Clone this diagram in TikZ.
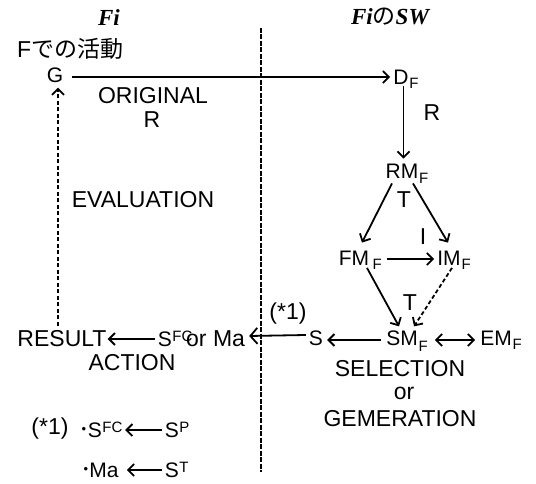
\documentclass[tikz,border=0pt]{standalone}
\usepackage{fontspec}
\setmainfont{Liberation Sans}
\newfontfamily\cjk{Noto Sans CJK JP}
\newfontfamily\srf{Liberation Serif}
\usetikzlibrary{arrows.meta}
\begin{document}
\begin{tikzpicture}[x=1pt,y=-1pt,
  nd/.style={font=\fontsize{21}{25}\selectfont, inner sep=0pt},
  lb/.style={font=\fontsize{23}{27}\selectfont, inner sep=0pt},
  ttl/.style={font=\fontsize{23}{27}\selectfont\srf\bfseries\itshape, inner sep=0pt},
  sb/.style={font=\fontsize{15}{17}\selectfont, inner sep=0pt, anchor=north west},
  sp/.style={font=\fontsize{15}{17}\selectfont, inner sep=0pt, anchor=south west},
  dot/.style={font=\fontsize{13}{15}\selectfont, inner sep=0pt},
  arr/.style={line width=1.8pt, -{Straight Barb[length=6pt,width=12pt]}},
  dsh/.style={dash pattern=on 4pt off 2.5pt},
]
\useasboundingbox (0,0) rectangle (536,484);

% titles
\node[ttl] (fi) at (109,18) {Fi};
\node[ttl] (fisw) at (390,17) {Fi{\cjk\mdseries\upshape の}SW};
\node[lb, anchor=west] (act) at (17,49) {F{\cjk での活動}};

% divider
\coordinate (dtop) at (261,28);
\coordinate (dbot) at (261,472);
\draw[line width=1.4pt, dash pattern=on 5pt off 1.5pt] (dtop) -- (dbot);

% nodes
\node[nd] (G) at (55,75) {G};
\node[nd] (D) at (401,77) {D};
\node[sb] (Df) at ([xshift=0.5pt,yshift=-1pt]D.east) {F};
\node[nd] (RM) at (402,171) {RM};
\node[sb] (RMf) at ([xshift=0.5pt,yshift=-2pt]RM.east) {F};
\node[nd] (FM) at (354,258) {FM};
\node[sb] (FMf) at ([xshift=3pt,yshift=-1pt]FM.east) {F};
\node[nd] (IM) at (449,258) {IM};
\node[sb] (IMf) at ([xshift=0.5pt,yshift=-1pt]IM.east) {F};
\node[nd] (SM) at (402,338) {SM};
\node[sb] (SMf) at ([xshift=0.5pt,yshift=-2.5pt]SM.east) {F};
\node[nd] (EM) at (496,338) {EM};
\node[sb] (EMf) at ([xshift=0.5pt,yshift=-1pt]EM.east) {F};
\node[nd] (S) at (316,338) {S};
\node[nd] (SFC) at (165,339) {S};
\node[sp] (SFCs) at ([xshift=0pt,yshift=-3pt]SFC.east) {FC};
\node[lb, anchor=west] (Ma) at (186,339) {or Ma};
\node[lb] (RES) at (62,339) {RESULT};

% labels
\node[lb] (orig) at (153,96) {ORIGINAL};
\node[lb] (origR) at (152,120) {R};
\node[lb] (R2) at (432,113) {R};
\node[lb] (T1) at (404,200) {T};
\node[lb] (I1) at (423,237) {I};
\node[lb] (T2) at (410,303) {T};
\node[lb] (eval) at (143,200) {EVALUATION};
\node[lb] (actn) at (132,363) {ACTION};
\node[lb] (star) at (288,314) {(*1)};
\node[lb] (sel) at (400,369) {SELECTION};
\node[lb] (or) at (404,393) {or};
\node[lb] (gen) at (400,419) {GEMERATION};

% connectors
\draw[arr] ([xshift=9pt,yshift=-2pt]G.east) -- ([xshift=-3pt]D.west);
\draw[arr] ([xshift=2.5pt,yshift=-2pt]D.south) -- ([xshift=1.5pt,yshift=5pt]RM.north);
\draw[arr] ([xshift=-10pt,yshift=-5pt]RM.south) -- ([xshift=8pt,yshift=8pt]FM.north);
\draw[arr] ([xshift=11pt,yshift=-5pt]RM.south) -- ([xshift=-1pt,yshift=8pt]IM.north);
\draw[arr] ([xshift=18pt,yshift=-1pt]FM.east) -- ([xshift=-3pt,yshift=-1pt]IM.west);
\draw[arr] ([xshift=13pt,yshift=-2.5pt]FM.south) -- ([xshift=-3pt,yshift=4pt]SM.north);
\draw[arr, dsh] ([xshift=3pt,yshift=-2.5pt]IM.south) -- ([xshift=12pt,yshift=4pt]SM.north);
\draw[line width=1.8pt, {Straight Barb[length=6pt,width=12pt]}-{Straight Barb[length=6pt,width=12pt]}] ([xshift=17pt,yshift=-2pt]SM.east) -- ([xshift=-5pt,yshift=-2pt]EM.west);
\draw[arr] ([xshift=-5pt,yshift=-2pt]SM.west) -- ([xshift=4pt,yshift=-2pt]S.east);
\draw[line width=1.8pt, -{Straight Barb[length=7pt,width=16pt]}] ([xshift=-3pt,yshift=3pt]S.west) -- ([xshift=4pt,yshift=3pt]Ma.east);
\draw[arr] ([xshift=-3pt]SFC.west) -- ([xshift=1pt]RES.east);
\draw[arr, dsh] ([xshift=-4pt,yshift=5pt]RES.north) -- ([xshift=3pt,yshift=-5pt]G.south);

% footnote
\node[lb] (fn) at (50,429) {(*1)};
\node[dot] (b1) at (84,430) {•};
\node[nd] (fS1) at (95,430) {S};
\node[sp] (fS1s) at ([xshift=0pt,yshift=-3pt]fS1.east) {FC};
\node[nd] (fSP) at (172,430) {S};
\node[sp] (fSPs) at ([xshift=0pt,yshift=-3pt]fSP.east) {P};
\draw[arr] ([xshift=-3pt]fSP.west) -- ([xshift=23pt]fS1.east);
\node[dot] (b2) at (86,470) {•};
\node[nd] (fMa) at (104,470) {Ma};
\node[nd] (fST) at (172,470) {S};
\node[sp] (fSTs) at ([xshift=0pt,yshift=-3pt]fST.east) {T};
\draw[arr] ([xshift=-3pt]fST.west) -- ([xshift=8pt]fMa.east);
\end{tikzpicture}
\end{document}
